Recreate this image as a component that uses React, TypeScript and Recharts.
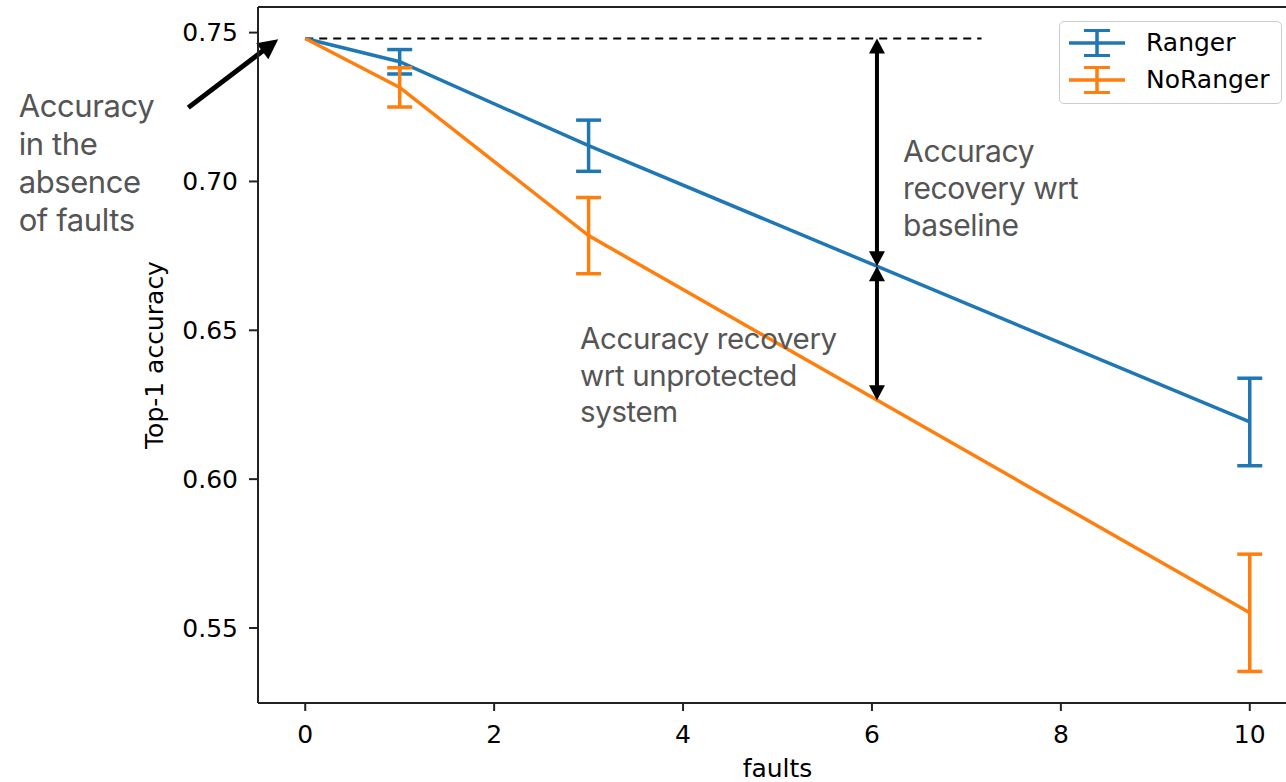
import React from 'react';
import {
  ComposedChart,
  Line,
  XAxis,
  YAxis,
  ErrorBar,
  ReferenceLine,
  ReferenceDot,
} from 'recharts';

// ---------- data ----------
const faults = [0, 1, 3, 10];
const rangerAcc = [0.748, 0.7402, 0.712, 0.6192];
const rangerErr = [0, 0.0041, 0.0086, 0.0147];
const noRangerAcc = [0.748, 0.7316, 0.6818, 0.5551];
const noRangerErr = [0, 0.0066, 0.0128, 0.0197];
const seriesNames = ['Ranger', 'NoRanger'];
const xTicks = [0, 2, 4, 6, 8, 10];
const yTicks = [0.55, 0.6, 0.65, 0.7, 0.75];
const yDomain = [0.5248, 0.7586];

const annLeft = ['Accuracy', 'in the', 'absence', 'of faults'];
const annBaseline = ['Accuracy', 'recovery wrt', 'baseline'];
const annUnprot = ['Accuracy recovery', 'wrt unprotected', 'system'];

const data = faults.map((f, i) => ({
  faults: f,
  ranger: rangerAcc[i],
  rangerErr: rangerErr[i],
  noRanger: noRangerAcc[i],
  noRangerErr: noRangerErr[i],
}));

// ---------- styles ----------
const BLUE = '#1f77b4';
const ORANGE = '#ff7f0e';
const AXIS = '#222';
const FONT = 'DejaVu Sans, sans-serif';
const FS = 25;
const ANN_FONT = 'Inter, Lato, sans-serif';
const ANN_COLOR = '#555';

const W = 1300;
const H = 782;

type ArrowOpts = { width: number; headLen: number; headHalf: number; both: boolean };

const makeArrow = (o: ArrowOpts) => (props: any) => {
  const { x1, y1, x2, y2 } = props;
  const dx = x2 - x1;
  const dy = y2 - y1;
  const len = Math.sqrt(dx * dx + dy * dy) || 1;
  const ux = dx / len;
  const uy = dy / len;
  const px = -uy;
  const py = ux;
  const head = (tx: number, ty: number, dirx: number, diry: number) => {
    const bx = tx - dirx * o.headLen;
    const by = ty - diry * o.headLen;
    return `${tx},${ty} ${bx + px * o.headHalf},${by + py * o.headHalf} ${bx - px * o.headHalf},${by - py * o.headHalf}`;
  };
  const sx = o.both ? x1 + ux * (o.headLen - 2) : x1;
  const sy = o.both ? y1 + uy * (o.headLen - 2) : y1;
  const ex = x2 - ux * (o.headLen - 2);
  const ey = y2 - uy * (o.headLen - 2);
  return (
    <g>
      <line x1={sx} y1={sy} x2={ex} y2={ey} stroke="#000" strokeWidth={o.width} />
      <polygon points={head(x2, y2, ux, uy)} fill="#000" />
      {o.both && <polygon points={head(x1, y1, -ux, -uy)} fill="#000" />}
    </g>
  );
};

const makeText = (lines: string[], fontSize: number, lineGap: number) => (props: any) => {
  const { cx, cy } = props;
  return (
    <text
      x={cx}
      y={cy}
      fill={ANN_COLOR}
      fontFamily={ANN_FONT}
      fontSize={fontSize}
      letterSpacing={-0.4}
    >
      {lines.map((l, i) => (
        <tspan key={i} x={cx} dy={i === 0 ? 0 : lineGap}>
          {l}
        </tspan>
      ))}
    </text>
  );
};

const LegendIcon = ({ color }: { color: string }) => (
  <svg width={58} height={28} style={{ display: 'block' }}>
    <line x1={1} y1={14} x2={57} y2={14} stroke={color} strokeWidth={3.5} />
    <line x1={29} y1={1.5} x2={29} y2={26.5} stroke={color} strokeWidth={3.5} />
    <line x1={16} y1={1.5} x2={42} y2={1.5} stroke={color} strokeWidth={3} />
    <line x1={16} y1={26.5} x2={42} y2={26.5} stroke={color} strokeWidth={3} />
  </svg>
);

export default function App() {
  const seriesColors = [BLUE, ORANGE];
  return (
    <div
      style={{
        position: 'absolute',
        left: 0,
        top: 0,
        width: 1286,
        height: 782,
        overflow: 'hidden',
        background: '#fff',
      }}
    >
      <ComposedChart
        width={W}
        height={H}
        data={data}
        margin={{ top: 7, right: 3, bottom: 0, left: 0 }}
      >
        <XAxis
          type="number"
          dataKey="faults"
          domain={[-0.5, 10.5]}
          ticks={xTicks}
          height={79}
          tickSize={8}
          tickMargin={14}
          axisLine={{ stroke: AXIS, strokeWidth: 2 }}
          tickLine={{ stroke: AXIS, strokeWidth: 2 }}
          tick={{ fill: '#000', fontSize: FS, fontFamily: FONT }}
          allowDataOverflow
          label={{
            value: 'faults',
            position: 'insideBottom',
            offset: 5,
            fill: '#000',
            fontSize: FS,
            fontFamily: FONT,
          }}
        />
        <YAxis
          type="number"
          domain={yDomain}
          ticks={yTicks}
          width={258}
          tickSize={9}
          tickMargin={11}
          allowDataOverflow
          tickFormatter={(v: number) => v.toFixed(2)}
          axisLine={{ stroke: AXIS, strokeWidth: 2 }}
          tickLine={{ stroke: AXIS, strokeWidth: 2 }}
          tick={{ fill: '#000', fontSize: FS, fontFamily: FONT }}
          label={{
            value: 'Top-1 accuracy',
            angle: -90,
            position: 'insideLeft',
            offset: 154,
            fill: '#000',
            fontSize: FS,
            fontFamily: FONT,
            style: { textAnchor: 'middle' },
          }}
        />

        {/* top spine */}
        <ReferenceLine
          y={yDomain[1]}
          stroke={AXIS}
          strokeWidth={2}
          ifOverflow="visible"
        />

        <ReferenceLine
          segment={[
            { x: 0, y: 0.748 },
            { x: 7.16, y: 0.748 },
          ]}
          stroke="#000"
          strokeWidth={2}
          strokeDasharray="8 6"
          ifOverflow="visible"
        />

        <Line
          type="linear"
          dataKey="ranger"
          name={seriesNames[0]}
          stroke={seriesColors[0]}
          strokeWidth={3.5}
          dot={false}
          activeDot={false}
          isAnimationActive={false}
        >
          <ErrorBar
            dataKey="rangerErr"
            width={12.5}
            stroke={seriesColors[0]}
            strokeWidth={3.5}
            direction="y"
            isAnimationActive={false}
          />
        </Line>
        <Line
          type="linear"
          dataKey="noRanger"
          name={seriesNames[1]}
          stroke={seriesColors[1]}
          strokeWidth={3.5}
          dot={false}
          activeDot={false}
          isAnimationActive={false}
        >
          <ErrorBar
            dataKey="noRangerErr"
            width={12.5}
            stroke={seriesColors[1]}
            strokeWidth={3.5}
            direction="y"
            isAnimationActive={false}
          />
        </Line>

        <ReferenceLine
          segment={[
            { x: 6.053, y: 0.748 },
            { x: 6.053, y: 0.6715 },
          ]}
          ifOverflow="visible"
          shape={makeArrow({ width: 4, headLen: 15, headHalf: 8, both: true })}
        />
        <ReferenceLine
          segment={[
            { x: 6.053, y: 0.6715 },
            { x: 6.053, y: 0.6265 },
          ]}
          ifOverflow="visible"
          shape={makeArrow({ width: 4, headLen: 15, headHalf: 8, both: true })}
        />
        <ReferenceLine
          segment={[
            { x: -1.238, y: 0.7248 },
            { x: -0.286, y: 0.7478 },
          ]}
          ifOverflow="visible"
          shape={makeArrow({ width: 5, headLen: 20, headHalf: 10, both: false })}
        />

        <ReferenceDot
          x={-3.034}
          y={0.7218}
          r={0}
          ifOverflow="visible"
          shape={makeText(annLeft, 31, 38)}
        />
        <ReferenceDot
          x={6.33}
          y={0.7066}
          r={0}
          ifOverflow="visible"
          shape={makeText(annBaseline, 30, 37.3)}
        />
        <ReferenceDot
          x={2.91}
          y={0.6437}
          r={0}
          ifOverflow="visible"
          shape={makeText(annUnprot, 29.5, 36.5)}
        />
      </ComposedChart>

      <div
        style={{
          position: 'absolute',
          left: 1059,
          top: 21,
          width: 221,
          height: 81,
          border: '1.5px solid #cccccc',
          borderRadius: 5,
          background: 'rgba(255,255,255,0.8)',
        }}
      >
        {seriesNames.map((n, i) => (
          <div
            key={n}
            style={{
              position: 'absolute',
              left: 8,
              top: 7 + i * 37,
              display: 'flex',
              alignItems: 'center',
              height: 28,
            }}
          >
            <LegendIcon color={seriesColors[i]} />
            <span
              style={{
                marginLeft: 20,
                fontFamily: FONT,
                fontSize: FS,
                color: '#000',
                lineHeight: '28px',
              }}
            >
              {n}
            </span>
          </div>
        ))}
      </div>
    </div>
  );
}
